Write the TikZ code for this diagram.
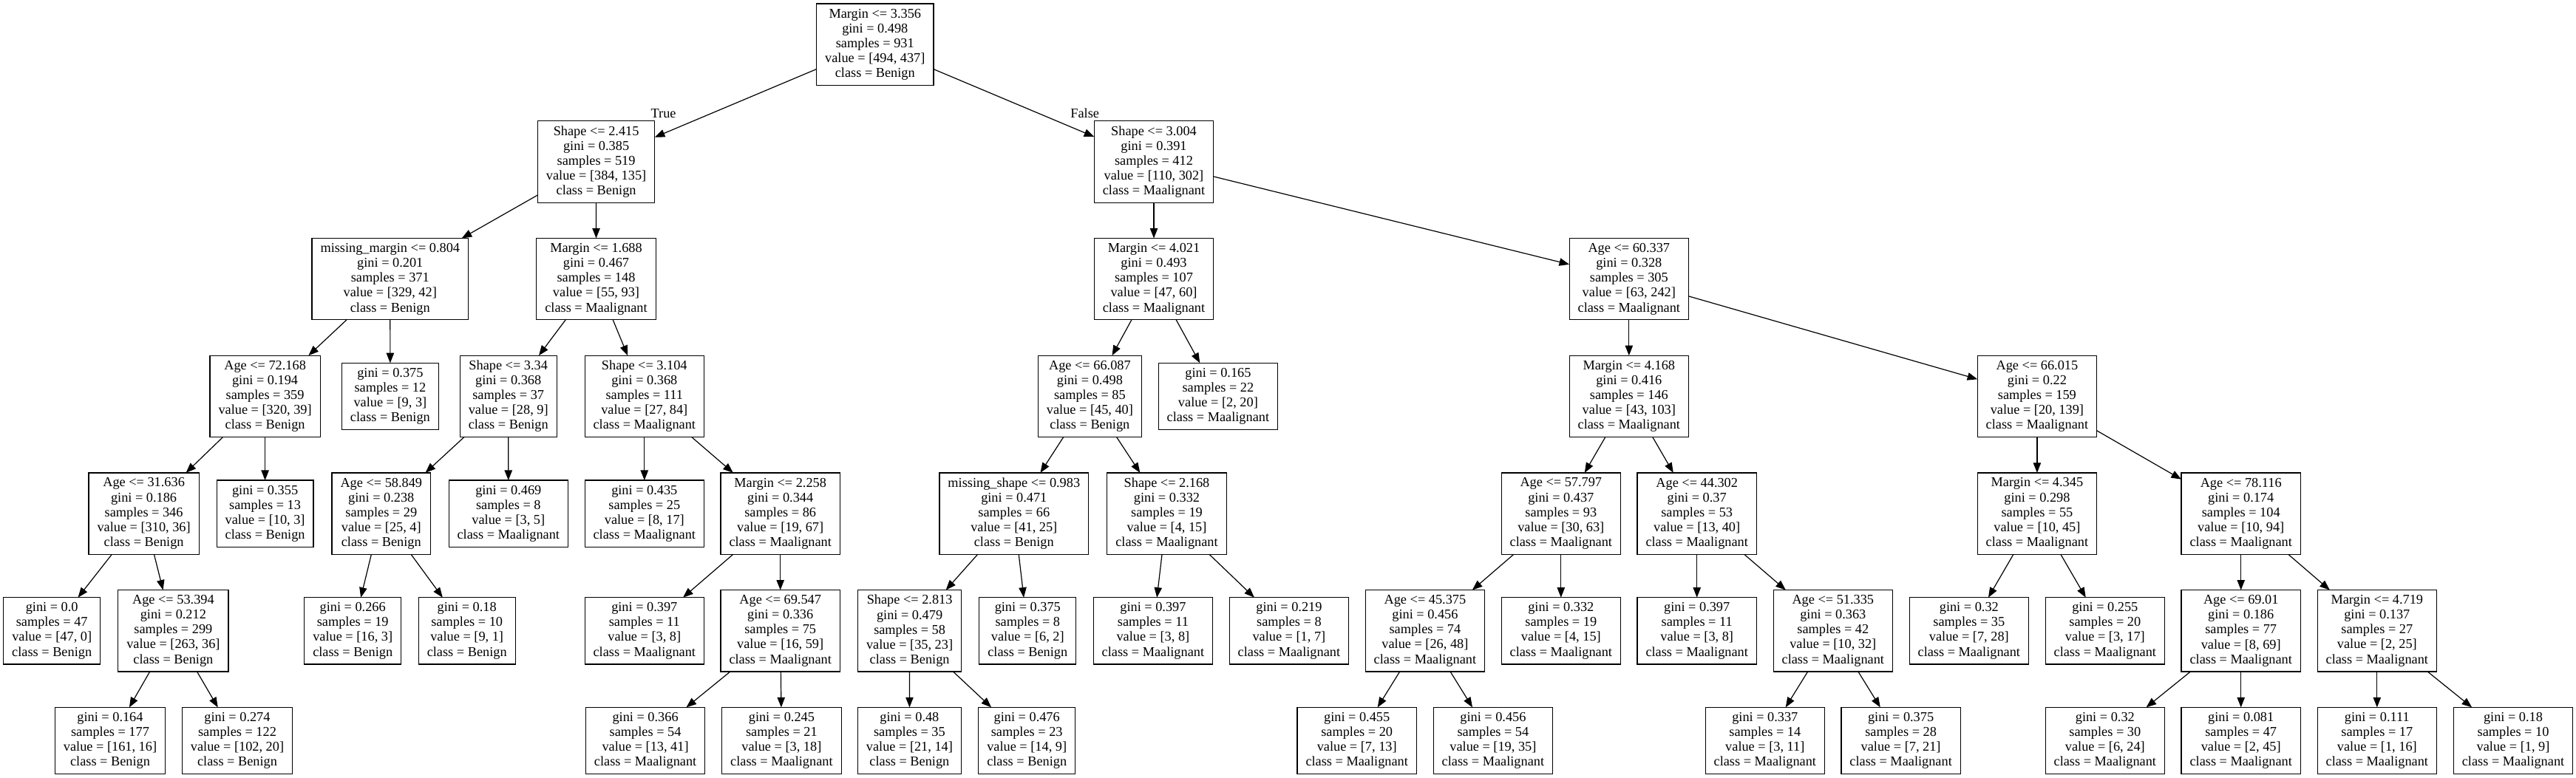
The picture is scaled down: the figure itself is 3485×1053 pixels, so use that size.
\documentclass[tikz,border=0pt]{standalone}
\usepackage{fontspec}
\setmainfont{Liberation Serif}
\usetikzlibrary{arrows.meta}
\newcommand\dtfont{\fontsize{9.15pt}{10.05pt}\selectfont}
\tikzset{
  dtnode/.style={draw, rectangle, line width=0.6pt, inner xsep=5.75pt, inner ysep=0pt,
    outer sep=0pt, minimum height=55.2pt, align=center, font=\dtfont},
  leafnode/.style={dtnode, minimum height=45.1pt},
  dtedge/.style={-{Triangle[length=6.8pt,width=5.2pt]}, line width=0.6pt},
  dtlabel/.style={inner sep=0pt, font=\dtfont},
}
\begin{document}
\begin{tikzpicture}[x=0.5pt,y=-0.5pt]
\fill[white] (0,0) rectangle (3485,1053);
\useasboundingbox (0,0) rectangle (3485,1053);
% level centres: 60.3, 219.0, 377.7, 536.4, 695.1, 853.8, 1002.5
\node[dtnode] (n0) at (1183.8,60.3) {Margin <= 3.356\\gini = 0.498\\samples = 931\\value = [494, 437]\\class = Benign};
\node[dtnode] (n1) at (806.6,219.0) {Shape <= 2.415\\gini = 0.385\\samples = 519\\value = [384, 135]\\class = Benign};
\node[dtnode] (n2) at (527.8,377.7) {missing\_margin <= 0.804\\gini = 0.201\\samples = 371\\value = [329, 42]\\class = Benign};
\node[dtnode] (n3) at (358.6,536.4) {Age <= 72.168\\gini = 0.194\\samples = 359\\value = [320, 39]\\class = Benign};
\node[dtnode] (n4) at (194.6,695.1) {Age <= 31.636\\gini = 0.186\\samples = 346\\value = [310, 36]\\class = Benign};
\node[leafnode] (n5) at (70.2,853.8) {gini = 0.0\\samples = 47\\value = [47, 0]\\class = Benign};
\node[dtnode] (n6) at (234.4,853.8) {Age <= 53.394\\gini = 0.212\\samples = 299\\value = [263, 36]\\class = Benign};
\node[leafnode] (n7) at (149.0,1002.5) {gini = 0.164\\samples = 177\\value = [161, 16]\\class = Benign};
\node[leafnode] (n8) at (321.0,1002.5) {gini = 0.274\\samples = 122\\value = [102, 20]\\class = Benign};
\node[leafnode] (n9) at (358.6,695.1) {gini = 0.355\\samples = 13\\value = [10, 3]\\class = Benign};
\node[leafnode] (n10) at (527.9,536.4) {gini = 0.375\\samples = 12\\value = [9, 3]\\class = Benign};
\node[dtnode] (n11) at (806.5,377.7) {Margin <= 1.688\\gini = 0.467\\samples = 148\\value = [55, 93]\\class = Maalignant};
\node[dtnode] (n12) at (687.7,536.4) {Shape <= 3.34\\gini = 0.368\\samples = 37\\value = [28, 9]\\class = Benign};
\node[dtnode] (n13) at (515.8,695.1) {Age <= 58.849\\gini = 0.238\\samples = 29\\value = [25, 4]\\class = Benign};
\node[leafnode] (n14) at (477.2,853.8) {gini = 0.266\\samples = 19\\value = [16, 3]\\class = Benign};
\node[leafnode] (n15) at (631.7,853.8) {gini = 0.18\\samples = 10\\value = [9, 1]\\class = Benign};
\node[leafnode] (n16) at (687.8,695.1) {gini = 0.469\\samples = 8\\value = [3, 5]\\class = Maalignant};
\node[dtnode] (n17) at (871.8,536.4) {Shape <= 3.104\\gini = 0.368\\samples = 111\\value = [27, 84]\\class = Maalignant};
\node[leafnode] (n18) at (871.8,695.1) {gini = 0.435\\samples = 25\\value = [8, 17]\\class = Maalignant};
\node[dtnode] (n19) at (1055.7,695.1) {Margin <= 2.258\\gini = 0.344\\samples = 86\\value = [19, 67]\\class = Maalignant};
\node[leafnode] (n20) at (871.8,853.8) {gini = 0.397\\samples = 11\\value = [3, 8]\\class = Maalignant};
\node[dtnode] (n21) at (1055.7,853.8) {Age <= 69.547\\gini = 0.336\\samples = 75\\value = [16, 59]\\class = Maalignant};
\node[leafnode] (n22) at (873.1,1002.5) {gini = 0.366\\samples = 54\\value = [13, 41]\\class = Maalignant};
\node[leafnode] (n23) at (1057.4,1002.5) {gini = 0.245\\samples = 21\\value = [3, 18]\\class = Maalignant};
\node[dtnode] (n24) at (1561.0,219.0) {Shape <= 3.004\\gini = 0.391\\samples = 412\\value = [110, 302]\\class = Maalignant};
\node[dtnode] (n25) at (1561.0,377.7) {Margin <= 4.021\\gini = 0.493\\samples = 107\\value = [47, 60]\\class = Maalignant};
\node[dtnode] (n26) at (1474.4,536.4) {Age <= 66.087\\gini = 0.498\\samples = 85\\value = [45, 40]\\class = Benign};
\node[dtnode] (n27) at (1371.8,695.1) {missing\_shape <= 0.983\\gini = 0.471\\samples = 66\\value = [41, 25]\\class = Benign};
\node[dtnode] (n28) at (1230.6,853.8) {Shape <= 2.813\\gini = 0.479\\samples = 58\\value = [35, 23]\\class = Benign};
\node[leafnode] (n29) at (1230.4,1002.5) {gini = 0.48\\samples = 35\\value = [21, 14]\\class = Benign};
\node[leafnode] (n30) at (1389.2,1002.5) {gini = 0.476\\samples = 23\\value = [14, 9]\\class = Benign};
\node[leafnode] (n31) at (1390.3,853.8) {gini = 0.375\\samples = 8\\value = [6, 2]\\class = Benign};
\node[dtnode] (n32) at (1578.5,695.1) {Shape <= 2.168\\gini = 0.332\\samples = 19\\value = [4, 15]\\class = Maalignant};
\node[leafnode] (n33) at (1559.9,853.8) {gini = 0.397\\samples = 11\\value = [3, 8]\\class = Maalignant};
\node[leafnode] (n34) at (1743.9,853.8) {gini = 0.219\\samples = 8\\value = [1, 7]\\class = Maalignant};
\node[leafnode] (n35) at (1647.9,536.4) {gini = 0.165\\samples = 22\\value = [2, 20]\\class = Maalignant};
\node[dtnode] (n36) at (2203.8,377.7) {Age <= 60.337\\gini = 0.328\\samples = 305\\value = [63, 242]\\class = Maalignant};
\node[dtnode] (n37) at (2203.8,536.4) {Margin <= 4.168\\gini = 0.416\\samples = 146\\value = [43, 103]\\class = Maalignant};
\node[dtnode] (n38) at (2111.8,695.1) {Age <= 57.797\\gini = 0.437\\samples = 93\\value = [30, 63]\\class = Maalignant};
\node[dtnode] (n39) at (1927.9,853.8) {Age <= 45.375\\gini = 0.456\\samples = 74\\value = [26, 48]\\class = Maalignant};
\node[leafnode] (n40) at (1835.7,1002.5) {gini = 0.455\\samples = 20\\value = [7, 13]\\class = Maalignant};
\node[leafnode] (n41) at (2019.9,1002.5) {gini = 0.456\\samples = 54\\value = [19, 35]\\class = Maalignant};
\node[leafnode] (n42) at (2111.8,853.8) {gini = 0.332\\samples = 19\\value = [4, 15]\\class = Maalignant};
\node[dtnode] (n43) at (2295.7,695.1) {Age <= 44.302\\gini = 0.37\\samples = 53\\value = [13, 40]\\class = Maalignant};
\node[leafnode] (n44) at (2295.7,853.8) {gini = 0.397\\samples = 11\\value = [3, 8]\\class = Maalignant};
\node[dtnode] (n45) at (2479.8,853.8) {Age <= 51.335\\gini = 0.363\\samples = 42\\value = [10, 32]\\class = Maalignant};
\node[leafnode] (n46) at (2387.8,1002.5) {gini = 0.337\\samples = 14\\value = [3, 11]\\class = Maalignant};
\node[leafnode] (n47) at (2571.6,1002.5) {gini = 0.375\\samples = 28\\value = [7, 21]\\class = Maalignant};
\node[dtnode] (n48) at (2755.9,536.4) {Age <= 66.015\\gini = 0.22\\samples = 159\\value = [20, 139]\\class = Maalignant};
\node[dtnode] (n49) at (2755.9,695.1) {Margin <= 4.345\\gini = 0.298\\samples = 55\\value = [10, 45]\\class = Maalignant};
\node[leafnode] (n50) at (2663.8,853.8) {gini = 0.32\\samples = 35\\value = [7, 28]\\class = Maalignant};
\node[leafnode] (n51) at (2847.8,853.8) {gini = 0.255\\samples = 20\\value = [3, 17]\\class = Maalignant};
\node[dtnode] (n52) at (3031.7,695.1) {Age <= 78.116\\gini = 0.174\\samples = 104\\value = [10, 94]\\class = Maalignant};
\node[dtnode] (n53) at (3031.7,853.8) {Age <= 69.01\\gini = 0.186\\samples = 77\\value = [8, 69]\\class = Maalignant};
\node[leafnode] (n54) at (2847.8,1002.5) {gini = 0.32\\samples = 30\\value = [6, 24]\\class = Maalignant};
\node[leafnode] (n55) at (3031.7,1002.5) {gini = 0.081\\samples = 47\\value = [2, 45]\\class = Maalignant};
\node[dtnode] (n56) at (3215.8,853.8) {Margin <= 4.719\\gini = 0.137\\samples = 27\\value = [2, 25]\\class = Maalignant};
\node[leafnode] (n57) at (3215.8,1002.5) {gini = 0.111\\samples = 17\\value = [1, 16]\\class = Maalignant};
\node[leafnode] (n58) at (3400.0,1002.5) {gini = 0.18\\samples = 10\\value = [1, 9]\\class = Maalignant};
% edge labels
\node[dtlabel] (lblT) at (897.6,153.8) {True};
\node[dtlabel] (lblF) at (1467.7,153.4) {False};
% edges
\foreach \a/\b in {n0/n1, n1/n2, n2/n3, n3/n4, n4/n5, n4/n6, n6/n7, n6/n8, n3/n9, n2/n10,
  n1/n11, n11/n12, n12/n13, n13/n14, n13/n15, n12/n16, n11/n17, n17/n18, n17/n19,
  n19/n20, n19/n21, n21/n22, n21/n23, n0/n24, n24/n25, n25/n26, n26/n27, n27/n28,
  n28/n29, n28/n30, n27/n31, n26/n32, n32/n33, n32/n34, n25/n35, n24/n36, n36/n37,
  n37/n38, n38/n39, n39/n40, n39/n41, n38/n42, n37/n43, n43/n44, n43/n45, n45/n46,
  n45/n47, n36/n48, n48/n49, n49/n50, n49/n51, n48/n52, n52/n53, n53/n54, n53/n55,
  n52/n56, n56/n57, n56/n58}
  \draw[dtedge] (\a) -- (\b);
\end{tikzpicture}
\end{document}
